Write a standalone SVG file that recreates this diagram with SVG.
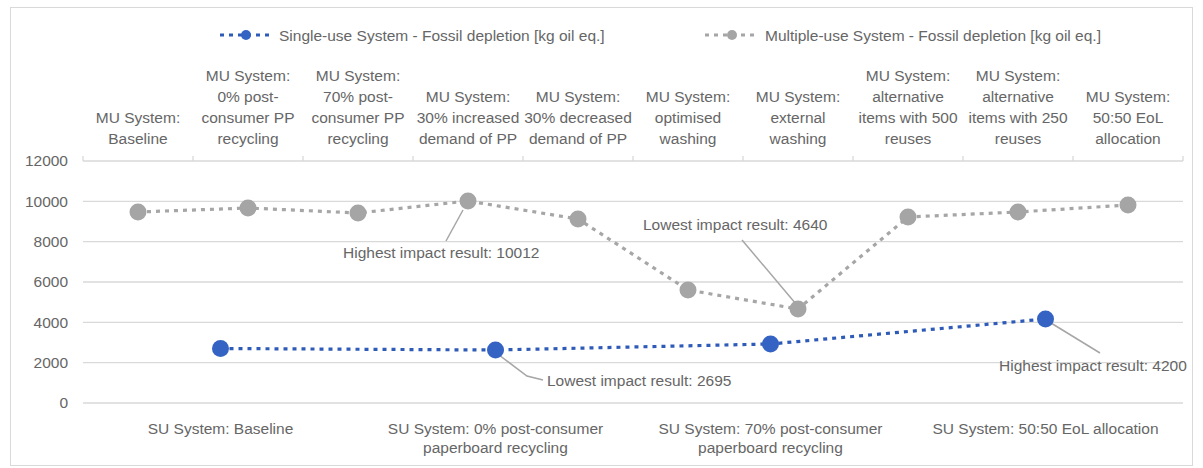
<svg xmlns="http://www.w3.org/2000/svg" width="1203" height="468" viewBox="0 0 1203 468">
<style>
text{font-family:"Liberation Sans",Arial,sans-serif;fill:#666666;font-size:15.5px}
.c{text-anchor:middle}
.r{text-anchor:end}
.grid{stroke:#d9d9d9;stroke-width:1.3;fill:none}
.tick{stroke:#d9d9d9;stroke-width:1.3}
.su{stroke:#2f5bb8;stroke-width:3.2;fill:none;stroke-dasharray:4 5}
.mu{stroke:#a6a6a6;stroke-width:3.2;fill:none;stroke-dasharray:4 5}
.sum{fill:#3563c4}
.mum{fill:#a5a5a5}
.lead{stroke:#a6a6a6;stroke-width:1.5;fill:none}
</style>
<rect x="0" y="0" width="1203" height="468" fill="#ffffff"/>
<rect x="10.5" y="7.5" width="1182" height="458" fill="#ffffff" stroke="#d9d9d9" stroke-width="1"/>
<g id="gridlines">
<line class="grid" x1="83" y1="161" x2="1183" y2="161"/>
<line class="grid" x1="83" y1="201.3" x2="1183" y2="201.3"/>
<line class="grid" x1="83" y1="241.7" x2="1183" y2="241.7"/>
<line class="grid" x1="83" y1="282" x2="1183" y2="282"/>
<line class="grid" x1="83" y1="322.3" x2="1183" y2="322.3"/>
<line class="grid" x1="83" y1="362.7" x2="1183" y2="362.7"/>
<line class="grid" x1="83" y1="403" x2="1183" y2="403"/>
<g class="tick">
<line x1="83" y1="156" x2="83" y2="161"/><line x1="193" y1="156" x2="193" y2="161"/><line x1="303" y1="156" x2="303" y2="161"/><line x1="413" y1="156" x2="413" y2="161"/><line x1="523" y1="156" x2="523" y2="161"/><line x1="633" y1="156" x2="633" y2="161"/><line x1="743" y1="156" x2="743" y2="161"/><line x1="853" y1="156" x2="853" y2="161"/><line x1="963" y1="156" x2="963" y2="161"/><line x1="1073" y1="156" x2="1073" y2="161"/><line x1="1183" y1="156" x2="1183" y2="161"/>
</g>
</g>
<g id="y-axis">
<text class="r" x="68" y="166">12000</text>
<text class="r" x="68" y="206.5">10000</text>
<text class="r" x="68" y="247">8000</text>
<text class="r" x="68" y="287">6000</text>
<text class="r" x="68" y="327.5">4000</text>
<text class="r" x="68" y="368">2000</text>
<text class="r" x="68" y="408">0</text>
</g>
<g id="legend">
<line class="su" x1="220" y1="35" x2="273" y2="35"/>
<circle class="sum" cx="246" cy="35" r="5"/>
<text x="279" y="40.5">Single-use System - Fossil depletion [kg oil eq.]</text>
<line class="mu" x1="705" y1="35" x2="759" y2="35"/>
<circle class="mum" cx="732" cy="35" r="5"/>
<text x="765" y="40.5">Multiple-use System - Fossil depletion [kg oil eq.]</text>
</g>
<g id="top-axis-labels">
<text class="c" x="138" y="122.5">MU System:</text><text class="c" x="138" y="143.5">Baseline</text>
<text class="c" x="248" y="80.5">MU System:</text><text class="c" x="248" y="101.5">0% post-</text><text class="c" x="248" y="122.5">consumer PP</text><text class="c" x="248" y="143.5">recycling</text>
<text class="c" x="358" y="80.5">MU System:</text><text class="c" x="358" y="101.5">70% post-</text><text class="c" x="358" y="122.5">consumer PP</text><text class="c" x="358" y="143.5">recycling</text>
<text class="c" x="468" y="101.5">MU System:</text><text class="c" x="468" y="122.5">30% increased</text><text class="c" x="468" y="143.5">demand of PP</text>
<text class="c" x="578" y="101.5">MU System:</text><text class="c" x="578" y="122.5">30% decreased</text><text class="c" x="578" y="143.5">demand of PP</text>
<text class="c" x="688" y="101.5">MU System:</text><text class="c" x="688" y="122.5">optimised</text><text class="c" x="688" y="143.5">washing</text>
<text class="c" x="798" y="101.5">MU System:</text><text class="c" x="798" y="122.5">external</text><text class="c" x="798" y="143.5">washing</text>
<text class="c" x="908" y="80.5">MU System:</text><text class="c" x="908" y="101.5">alternative</text><text class="c" x="908" y="122.5">items with 500</text><text class="c" x="908" y="143.5">reuses</text>
<text class="c" x="1018" y="80.5">MU System:</text><text class="c" x="1018" y="101.5">alternative</text><text class="c" x="1018" y="122.5">items with 250</text><text class="c" x="1018" y="143.5">reuses</text>
<text class="c" x="1128" y="101.5">MU System:</text><text class="c" x="1128" y="122.5">50:50 EoL</text><text class="c" x="1128" y="143.5">allocation</text>
</g>
<g id="bottom-axis-labels">
<text class="c" x="220.5" y="433.5">SU System: Baseline</text>
<text class="c" x="495.5" y="433.5">SU System: 0% post-consumer</text><text class="c" x="495.5" y="453">paperboard recycling</text>
<text class="c" x="770.5" y="433.5">SU System: 70% post-consumer</text><text class="c" x="770.5" y="453">paperboard recycling</text>
<text class="c" x="1045.5" y="433.5">SU System: 50:50 EoL allocation</text>
</g>
<g id="connectors">
<polyline class="mu" points="138,212 248,208 358,213 468,201 578,219 688,290 798,309 908,217 1018,212 1128,205"/>
<polyline class="su" points="220.5,348.5 495.5,350 770.5,344 1045.5,319"/>
<line class="lead" x1="463" y1="210" x2="446" y2="241"/>
<line class="lead" x1="742" y1="240" x2="796" y2="304"/>
<polyline class="lead" points="499,355 527,376 543,380"/>
<line class="lead" x1="1051" y1="323" x2="1100" y2="353"/>
</g>
<g id="mu-points">
<circle class="mum" cx="138" cy="212" r="8.5"/>
<circle class="mum" cx="248" cy="208" r="8.5"/>
<circle class="mum" cx="358" cy="213" r="8.5"/>
<circle class="mum" cx="468" cy="201" r="8.5"/>
<circle class="mum" cx="578" cy="219" r="8.5"/>
<circle class="mum" cx="688" cy="290" r="8.5"/>
<circle class="mum" cx="798" cy="309" r="8.5"/>
<circle class="mum" cx="908" cy="217" r="8.5"/>
<circle class="mum" cx="1018" cy="212" r="8.5"/>
<circle class="mum" cx="1128" cy="205" r="8.5"/>
</g>
<g id="su-points">
<circle class="sum" cx="220.5" cy="348.5" r="8.5"/>
<circle class="sum" cx="495.5" cy="350" r="8.5"/>
<circle class="sum" cx="770.5" cy="344" r="8.5"/>
<circle class="sum" cx="1045.5" cy="319" r="8.5"/>
</g>
<g id="annotations">
<text x="343" y="258">Highest impact result: 10012</text>
<text x="643" y="230">Lowest impact result: 4640</text>
<text x="547" y="386">Lowest impact result: 2695</text>
<text x="999" y="371">Highest impact result: 4200</text>
</g>
</svg>
